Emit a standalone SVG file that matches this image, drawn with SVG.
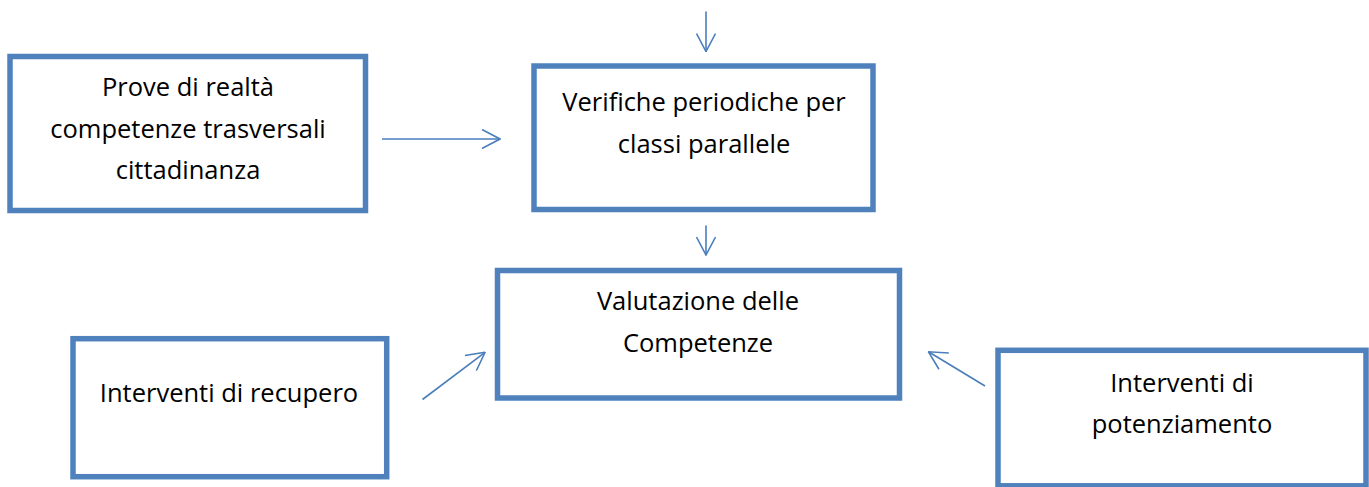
<svg xmlns="http://www.w3.org/2000/svg" width="1369" height="487" viewBox="0 0 1369 487">
<style>
.box{fill:#fff;stroke:#4F81BD;stroke-width:5.5}
.lbl{font-family:"Open Sans","Liberation Sans",sans-serif;font-size:25.5px;fill:#000;text-anchor:middle}
.conn{stroke:#4A7EBB;stroke-width:1.6;fill:none}
</style>
<defs>
<marker id="ah" viewBox="0 0 20 20" refX="19.5" refY="10" markerWidth="20" markerHeight="20" markerUnits="userSpaceOnUse" orient="auto">
<path d="M1.5,0.5 L19.5,10 L1.5,19.5" fill="none" stroke="#4A7EBB" stroke-width="1.6"/>
</marker>
</defs>
<rect width="1369" height="487" fill="#fff"/>
<g id="prove">
<rect class="box" x="10" y="56.5" width="355.5" height="154"/>
<text class="lbl" x="188" y="96">Prove di realtà</text>
<text class="lbl" x="188" y="138">competenze trasversali</text>
<text class="lbl" x="188" y="179">cittadinanza</text>
</g>
<g id="verifiche">
<rect class="box" x="534" y="66" width="339" height="143.5"/>
<text class="lbl" x="704" y="111">Verifiche periodiche per</text>
<text class="lbl" x="704" y="152.5">classi parallele</text>
</g>
<g id="valutazione">
<rect class="box" x="497.5" y="270.5" width="402" height="127.5"/>
<text class="lbl" x="698" y="310">Valutazione delle</text>
<text class="lbl" x="698" y="351.5">Competenze</text>
</g>
<g id="recupero">
<rect class="box" x="73" y="338.7" width="313.7" height="138"/>
<text class="lbl" x="229" y="401.5">Interventi di recupero</text>
</g>
<g id="potenziamento">
<rect class="box" x="998" y="350.3" width="368" height="135.5"/>
<text class="lbl" x="1182" y="391.5">Interventi di</text>
<text class="lbl" x="1182" y="433">potenziamento</text>
</g>
<g id="connectors">
<line class="conn" x1="706" y1="11.5" x2="706" y2="51.5" marker-end="url(#ah)"/>
<line class="conn" x1="382" y1="139" x2="500" y2="139" marker-end="url(#ah)"/>
<line class="conn" x1="706" y1="225.5" x2="706" y2="255" marker-end="url(#ah)"/>
<line class="conn" x1="422.5" y1="399.5" x2="485" y2="352.3" marker-end="url(#ah)"/>
<line class="conn" x1="985" y1="386" x2="928.5" y2="351.8" marker-end="url(#ah)"/>
</g>
</svg>
